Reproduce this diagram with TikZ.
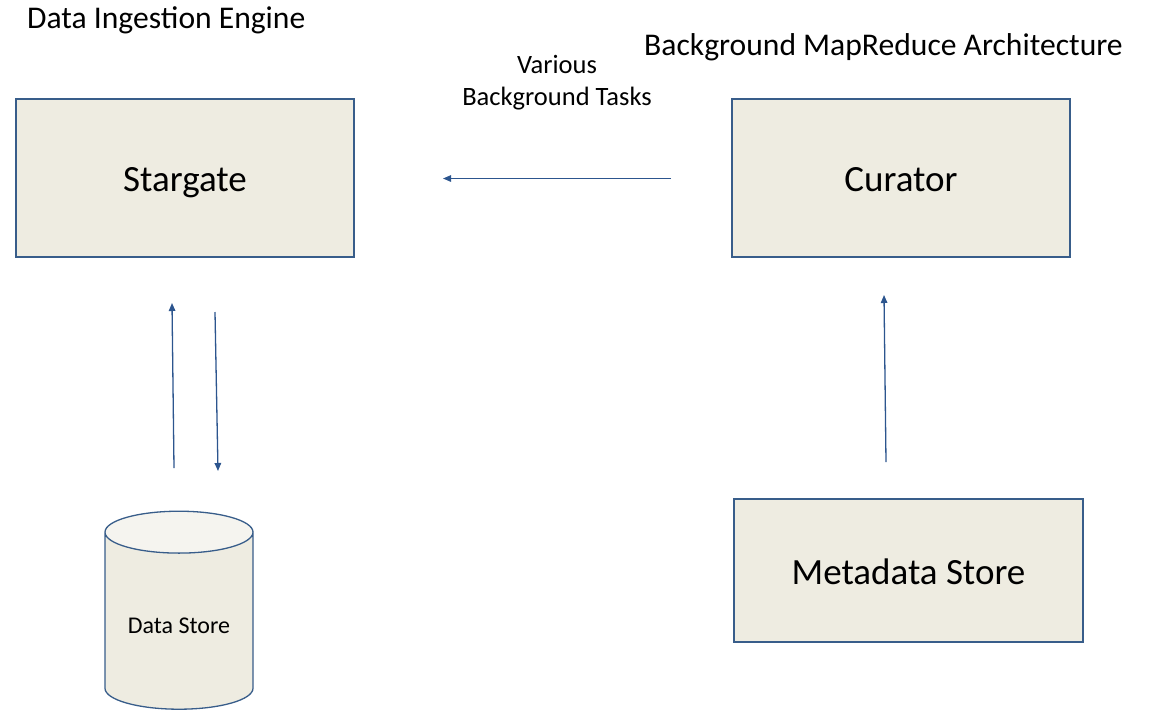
\documentclass[tikz,border=0pt]{standalone}
\usepackage{fontspec}
\setmainfont{Carlito}
\usetikzlibrary{arrows.meta,shapes.geometric}

\definecolor{boxfill}{HTML}{EEECE1}
\definecolor{capfill}{HTML}{F5F4EF}
\definecolor{boxline}{HTML}{385D8A}
\definecolor{flowline}{HTML}{2C558E}

\begin{document}
\begin{tikzpicture}[x=1pt,y=-1pt,
	block/.style={draw=boxline,line width=1.3pt,fill=boxfill,inner sep=0pt,
		text height=27pt,text depth=0pt,font=\fontsize{37}{44}\selectfont},
	store/.style={cylinder,shape border rotate=90,aspect=0.41,draw=boxline,
		line width=1.3pt,cylinder uses custom fill,cylinder body fill=boxfill,
		cylinder end fill=capfill,inner sep=0pt,text height=24pt,text depth=0pt,
		font=\fontsize{24}{29}\selectfont},
	heading/.style={anchor=base west,inner sep=0pt,font=\fontsize{31.6}{38}\selectfont},
	flow/.style={draw=flowline,line width=1.3pt,-{Triangle[length=8pt,width=6.5pt]}}]
	\useasboundingbox (0,0) rectangle (1161,712);

	% group titles
	\node[heading] (ingest) at (27,28) {Data Ingestion Engine};
	\node[heading] (mapred) at (644,55) {Background MapReduce Architecture};

	% components
	\node[block,minimum width=338,minimum height=158] (stargate) at (185,178) {Stargate};
	\node[block,minimum width=338,minimum height=158] (curator) at (901,178) {Curator};
	\node[block,minimum width=349,minimum height=143] (meta) at (908.5,570.5) {Metadata Store};
	\node[store,minimum width=148,minimum height=198] (datastore) at (179,621) {Data Store};

	\node[align=center,anchor=north,inner sep=0pt,font=\fontsize{26.5}{32}\selectfont]
		(tasks) at (557,55) {Various\\Background Tasks};

	% free arrow ends
	\coordinate (up-from) at (174,468);
	\coordinate (up-to) at (172,303);
	\coordinate (down-from) at (215,312);
	\coordinate (down-to) at (218,471);
	\coordinate (task-from) at (671,178.5);
	\coordinate (task-to) at (443,178.5);
	\coordinate (meta-from) at (886,462);
	\coordinate (meta-to) at (884,295);

	\draw[flow] (up-from) -- (up-to);
	\draw[flow] (down-from) -- (down-to);
	\draw[flow] (task-from) -- (task-to);
	\draw[flow] (meta-from) -- (meta-to);
\end{tikzpicture}
\end{document}
